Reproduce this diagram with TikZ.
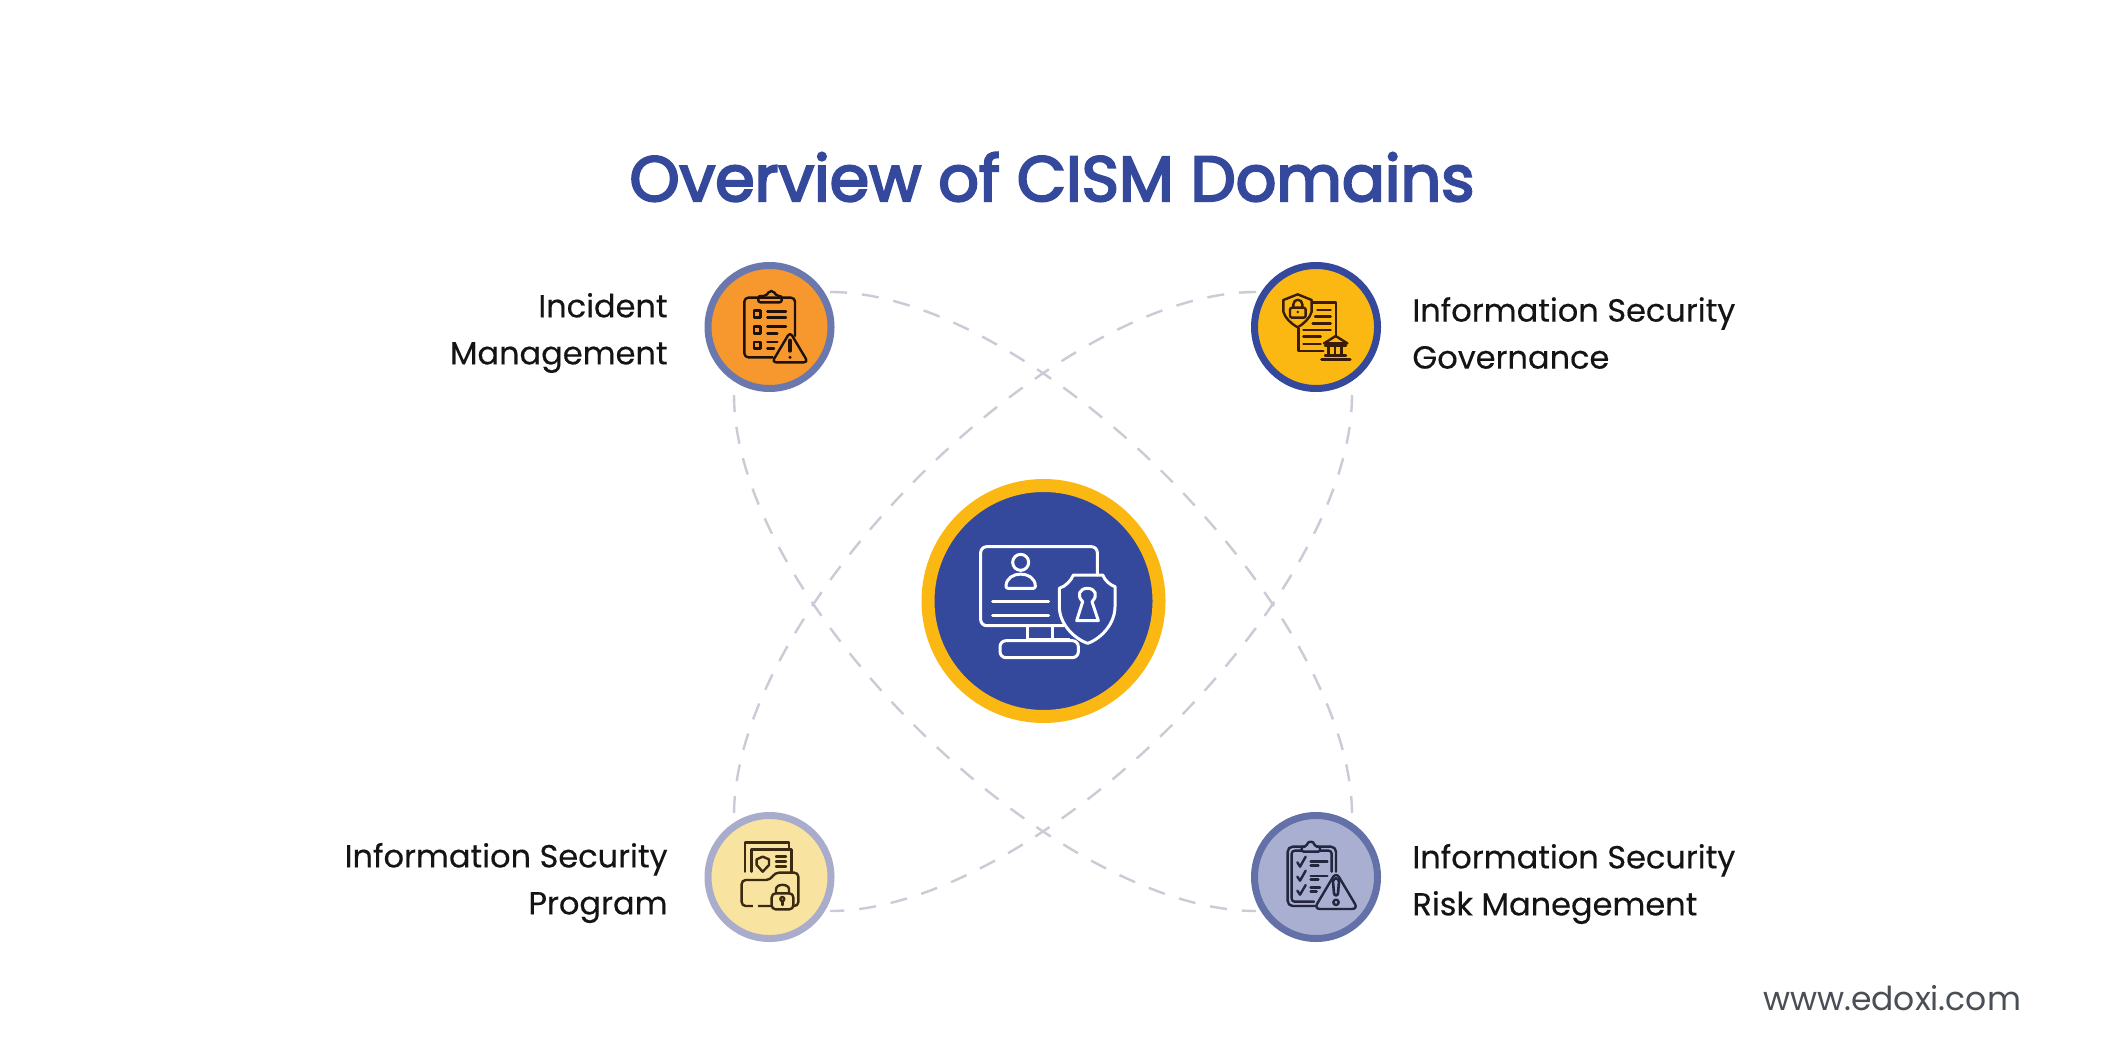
\documentclass[tikz,border=0pt]{standalone}
\usepackage{fontspec}
\setmainfont[FakeBold=0.3]{Poppins}
\newfontfamily\titlefont[FakeBold=3.5]{Poppins}
\newfontfamily\webfont{Poppins}
\definecolor{navy}{HTML}{34489C}
\definecolor{gold}{HTML}{FBB812}
\definecolor{dashc}{HTML}{C9CBD6}
\definecolor{txtc}{HTML}{141414}
\definecolor{webc}{HTML}{4A4F55}
\definecolor{icoA}{HTML}{1E1208}
\definecolor{icoB}{HTML}{3A1C08}
\definecolor{icoC}{HTML}{3A2A12}
\definecolor{icoD}{HTML}{23263F}
\definecolor{ringA}{HTML}{6A78AE}
\definecolor{fillA}{HTML}{F7982E}
\definecolor{ringC}{HTML}{A9ADCB}
\definecolor{fillC}{HTML}{F9E3A0}
\definecolor{ringD}{HTML}{6470A8}
\definecolor{fillD}{HTML}{A9AFD0}
\tikzset{
  orbit/.style={draw=dashc,line width=1.2pt,dash pattern=on 8.5pt off 7.5pt},
  domaindisc/.style={circle,minimum size=61.5pt,inner sep=0pt,line width=3.5pt},
  hub/.style={circle,minimum size=115.5pt,inner sep=0pt,line width=6.5pt,draw=gold,fill=navy},
  lbl/.style={inner sep=0pt,text=txtc,font=\fontsize{16}{23.5}\selectfont},
  ico/.style={line width=1.2pt,line join=round,line cap=round},
  zoomed/.style={x=0.16667pt,y=-0.16667pt}
}
\begin{document}
\begin{tikzpicture}[x=0.5pt,y=-0.5pt]
\useasboundingbox (0,0) rectangle (2102,1064);
\fill[white] (0,0) rectangle (2102,1064);
% orbit end points
\coordinate (a1) at (830,292);  \coordinate (a2) at (1352,815);
\coordinate (b1) at (1256,292); \coordinate (b2) at (734,815);
\coordinate (c1) at (734,395);  \coordinate (c2) at (1256,911);
\coordinate (d1) at (1352,395); \coordinate (d2) at (830,911);
\draw[orbit] (a1) .. controls +(204,0) and +(0,-204) .. (a2);
\draw[orbit] (b1) .. controls +(-204,0) and +(0,-204) .. (b2);
\draw[orbit] (c1) .. controls +(0,204) and +(-204,0) .. (c2);
\draw[orbit] (d1) .. controls +(0,204) and +(204,0) .. (d2);
% title
\node[inner sep=0pt,text=navy,font=\titlefont\fontsize{31.8}{36}\selectfont] (title) at (1052,177) {Overview of CISM Domains};
% circles
\node[hub] (hubc) at (1043.5,601) {};
\node[domaindisc,draw=ringA,fill=fillA] (inc) at (769.5,327) {};
\node[domaindisc,draw=navy,fill=gold] (gov) at (1316,327) {};
\node[domaindisc,draw=ringC,fill=fillC] (prog) at (769.5,877) {};
\node[domaindisc,draw=ringD,fill=fillD] (risk) at (1316,877) {};
% labels
\node[lbl,anchor=east,align=right] (l1) at (668,333) {Incident\\Management};
\node[lbl,anchor=west,align=left] (l2) at (1412,333) {Information Security\\Governance};
\node[lbl,anchor=east,align=right] (l3) at (668,883) {Information Security\\Program};
\node[lbl,anchor=west,align=left] (l4) at (1412,884) {Information Security\\Risk Manegement};
\node[inner sep=0pt,text=webc,font=\webfont\fontsize{16.5}{18}\selectfont] (web) at (1892,998) {www.edoxi.com};
% incident icon
\begin{scope}[shift={(690,250)},zoomed,ico,draw=icoA]
\draw[rounded corners=2pt] (248,322) -- (163,322) -- (163,143) -- (315,143) -- (315,258);
\draw[rounded corners=1pt] (205,157) -- (205,138) -- (228,138) -- (238,123) -- (250,123) -- (260,138) -- (275,138) -- (275,157) -- cycle;
\foreach \yy in {182,230,276} \draw (192,\yy) rectangle (212,\yy+20);
\draw (232,184) -- (288,184) (232,203) -- (288,203) (232,230) -- (288,230) (232,250) -- (262,250) (232,276) -- (262,276) (232,296) -- (252,296);
\draw[rounded corners=2pt] (300,246) -- (354,337) -- (246,337) -- cycle;
\draw[line width=2pt] (300,272) -- (300,302);
\fill[icoA] (300,322) circle (5);
\end{scope}
% governance icon
\begin{scope}[shift={(1240,250)},zoomed,ico,draw=icoB]
\draw (218,157) -- (288,157) -- (288,260) (175,235) -- (175,303) -- (250,303);
\draw (232,180) -- (272,180) (225,200) -- (272,200) (218,220) -- (272,220) (190,240) -- (272,240) (190,260) -- (242,260) (190,282) -- (242,282);
\draw (173,133) -- (215,150) -- (215,185) .. controls (210,205) and (190,222) .. (173,232) .. controls (155,222) and (135,205) .. (130,185) -- (130,150) -- cycle;
\draw[rounded corners=1pt] (150,173) rectangle (197,203);
\draw (160,173) -- (160,163) .. controls (160,145) and (187,145) .. (187,163) -- (187,173);
\fill[icoB] (173,186) circle (4);
\draw (287,258) -- (322,280) -- (252,280) -- cycle;
\draw (255,287) -- (318,287) (255,316) -- (318,316);
\draw (265,287) -- (265,316) (285,287) -- (285,316) (305,287) -- (305,316);
\draw[line width=1.6pt] (245,328) -- (330,328);
\end{scope}
% program icon
\begin{scope}[shift={(690,800)},zoomed,ico,draw=icoC]
\draw (165,215) -- (165,128) -- (297,128) -- (297,148);
\draw (185,215) -- (185,148) -- (305,148) -- (305,215);
\draw (218,170) -- (237,178) -- (237,195) -- (218,215) -- (200,195) -- (200,178) -- cycle;
\draw (258,170) -- (288,170) (258,185) -- (288,185) (258,200) -- (288,200);
\draw[rounded corners=2pt,fill=fillC] (155,318) -- (155,240) -- (240,240) -- (255,218) -- (325,218) -- (325,318) -- cycle;
\draw[white!0!fillC,line width=1.6pt,line cap=butt] (190,318) -- (205,318);
\draw[rounded corners=2pt,fill=fillC] (245,280) rectangle (310,328);
\draw (258,280) -- (258,268) .. controls (258,250) and (297,250) .. (297,268) -- (297,280);
\draw (277,297) circle (6);
\draw (277,303) -- (277,315);
\end{scope}
% risk icon
\begin{scope}[shift={(1240,800)},zoomed,ico,draw=icoD]
\draw[rounded corners=2.5pt] (225,318) -- (143,318) -- (143,140) -- (288,140) -- (288,215);
\draw[rounded corners=1.5pt] (222,305) -- (155,305) -- (155,152) -- (275,152) -- (275,215);
\draw[fill=fillD,rounded corners=1pt] (185,155) -- (185,140) -- (200,140) .. controls (202,122) and (222,122) .. (224,140) -- (240,140) -- (240,155) -- cycle;
\draw (172,187) -- (180,200) -- (197,170) (172,230) -- (180,242) -- (197,212) (172,272) -- (180,284) -- (197,255);
\draw (212,185) -- (262,185) (212,197) -- (235,197) (212,228) -- (262,228) (212,238) -- (235,238) (212,262) -- (240,262) (212,275) -- (230,275);
\draw[fill=fillD,rounded corners=3pt] (288,216) -- (354,327) -- (222,327) -- cycle;
\draw[line width=1.3pt] (279,245) .. controls (279,232) and (297,232) .. (297,245) -- (294,280) .. controls (293,288) and (283,288) .. (282,280) -- cycle;
\draw (288,307) circle (8);
\end{scope}
% hub icon
\begin{scope}[shift={(910,470)},zoomed,ico,line width=1.5pt,draw=white]
\draw[rounded corners=3pt] (460,467) -- (212,467) -- (212,230) -- (562,230) -- (562,315);
\draw (332,277) circle (24);
\draw[rounded corners=1pt] (288,355) -- (376,355) .. controls (376,300) and (288,300) .. (288,355) -- cycle;
\draw (248,393) -- (416,393) (248,436) -- (416,436);
\draw (352,467) -- (352,510) (428,467) -- (428,510) (352,508) -- (478,508);
\draw[rounded corners=3pt] (480,512) -- (505,512) -- (505,563) -- (270,563) -- (270,512) -- (480,512);
\draw (490,315) -- (578,315) .. controls (585,332) and (600,345) .. (615,350) -- (615,410) .. controls (615,460) and (575,505) .. (533,520) .. controls (490,505) and (448,460) .. (448,410) -- (448,355) .. controls (468,348) and (483,332) .. (490,315) -- cycle;
\draw (518,395) .. controls (498,375) and (510,355) .. (532,355) .. controls (555,355) and (566,375) .. (546,395) -- (565,452) -- (500,452) -- cycle;
\end{scope}
\end{tikzpicture}
\end{document}
